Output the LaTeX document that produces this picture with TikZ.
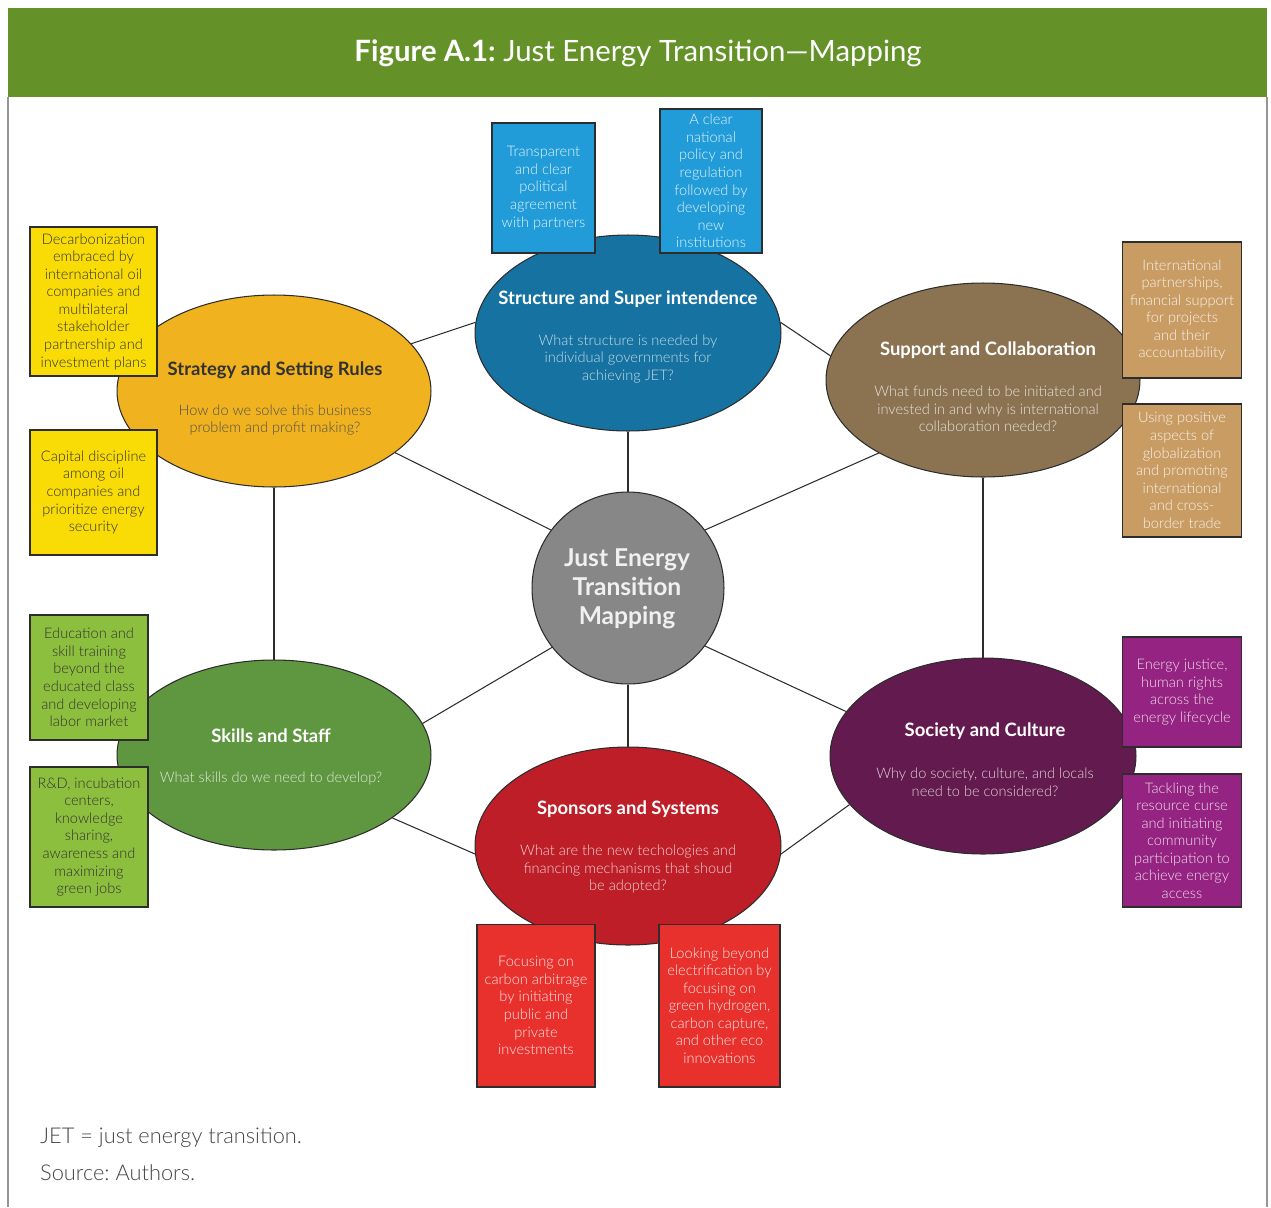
\documentclass[tikz,border=0pt]{standalone}
\usepackage{fontspec}
\setmainfont{Lato}
\newfontfamily\lightfont{Lato Light}
\usetikzlibrary{shapes.geometric}

\definecolor{headgreen}{RGB}{100,146,40}
\definecolor{framegray}{RGB}{150,150,150}
\definecolor{edge}{RGB}{45,45,45}
\definecolor{ovorange}{RGB}{240,178,30}
\definecolor{ovblue}{RGB}{21,114,161}
\definecolor{ovbrown}{RGB}{139,115,81}
\definecolor{ovgreen}{RGB}{95,151,65}
\definecolor{ovpurple}{RGB}{98,26,79}
\definecolor{ovred}{RGB}{190,30,39}
\definecolor{ovgray}{RGB}{135,135,135}
\definecolor{bxyellow}{RGB}{249,220,5}
\definecolor{bxblue}{RGB}{33,156,216}
\definecolor{bxtan}{RGB}{200,156,99}
\definecolor{bxgreen}{RGB}{141,191,63}
\definecolor{bxmagenta}{RGB}{149,35,129}
\definecolor{bxred}{RGB}{232,49,44}
\definecolor{darktext}{RGB}{50,50,50}
\definecolor{foottext}{RGB}{70,70,70}

\begin{document}
\frenchspacing
\begin{tikzpicture}[x=0.02cm,y=-0.02cm,
  oval/.style={ellipse, draw=edge, line width=0.6pt, inner sep=0pt},
  hub/.style={circle, draw=edge, line width=0.6pt, inner sep=0pt, fill=ovgray},
  infobox/.style={rectangle, draw=edge, line width=0.6pt, inner sep=0pt,
    align=center, font=\lightfont\fontsize{8.3}{10}\selectfont},
  link/.style={draw=edge, line width=0.6pt},
  ttl/.style={font=\bfseries\fontsize{10.5}{12.5}\selectfont, align=center},
  qst/.style={font=\lightfont\fontsize{8.3}{10}\selectfont, align=center}
]
\useasboundingbox (0,0) rectangle (1271,1207);

% page frame and header band
\draw[framegray, line width=0.8pt] (8,97) -- (8,1207) (1267,97) -- (1267,1207);
\fill[headgreen] (8,8) rectangle (1267,97);
\node[text=white, font=\fontsize{16.7}{19}\selectfont] (title) at (638,53)
  {\textbf{Figure A.1:} Just Energy Transition\textemdash Mapping};

% central hub and the six themes
\node[hub, minimum size=3.84cm] (cen) at (628,588) {};
\node[oval, fill=ovorange, minimum width=6.28cm, minimum height=3.84cm] (strat) at (274,391) {};
\node[oval, fill=ovblue,   minimum width=6.12cm, minimum height=3.92cm] (struct) at (628,333) {};
\node[oval, fill=ovbrown,  minimum width=6.28cm, minimum height=3.88cm] (supp) at (983,380) {};
\node[oval, fill=ovgreen,  minimum width=6.28cm, minimum height=3.80cm] (skills) at (274,755) {};
\node[oval, fill=ovpurple, minimum width=6.12cm, minimum height=3.92cm] (soc) at (983,756) {};
\node[oval, fill=ovred,    minimum width=6.12cm, minimum height=3.96cm] (spons) at (628,846) {};

% connectors
\draw[link] (cen.143) -- (strat.-27.5);
\draw[link] (cen.37) -- (supp.215.6);
\draw[link] (cen.218) -- (skills.12.7);
\draw[link] (cen.-37.5) -- (soc.162);
\draw[link] (cen.north) -- (struct.south);
\draw[link] (cen.south) -- (spons.north);
\draw[link] (strat.19.3) -- (struct.176);
\draw[link] (struct.4) -- (supp.171);
\draw[link] (strat.south) -- (skills.north);
\draw[link] (supp.south) -- (soc.north);
\draw[link] (skills.-28) -- (spons.183);
\draw[link] (spons.-3) -- (soc.200);

% hub text
\node[text=white!94!black, align=center, font=\bfseries\fontsize{14}{16.5}\selectfont] (cen-t) at (627,589)
  {Just Energy\\Transition\\Mapping};

% theme titles and questions
\node[ttl, text=darktext] (strat-t) at (275,370) {Strategy and Setting Rules};
\node[qst, text=darktext!85] (strat-q) at (275,420)
  {How do we solve this business\\problem and profit making?};

\node[ttl, text=white] (struct-t) at (628,299) {Structure and Super intendence};
\node[qst, text=ovblue!25!white] (struct-q) at (628,359)
  {What structure is needed by\\individual governments for\\achieving JET?};

\node[ttl, text=white] (supp-t) at (988,350) {Support and Collaboration};
\node[qst, text=ovbrown!20!white] (supp-q) at (988,409)
  {What funds need to be initiated and\\invested in and why is international\\collaboration needed?};

\node[ttl, text=white] (skills-t) at (271,736) {Skills and Staff};
\node[qst, text=ovgreen!20!white] (skills-q) at (271,778)
  {What skills do we need to develop?};

\node[ttl, text=white] (soc-t) at (985,731) {Society and Culture};
\node[qst, text=ovpurple!20!white] (soc-q) at (985,782)
  {Why do society, culture, and locals\\need to be considered?};

\node[ttl, text=white] (spons-t) at (628,809) {Sponsors and Systems};
\node[qst, text=ovred!20!white] (spons-q) at (628,869)
  {What are the new techologies and\\financing mechanisms that shoud\\be adopted?};

% detail boxes
\node[infobox, fill=bxyellow, text=darktext, minimum width=2.54cm, minimum height=2.98cm] (b1) at (93.5,301.5)
  {Decarbonization\\embraced by\\international oil\\companies and\\multilateral\\stakeholder\\partnership and\\investment plans};
\node[infobox, fill=bxyellow, text=darktext, minimum width=2.54cm, minimum height=2.50cm] (b2) at (93.5,492.5)
  {Capital discipline\\among oil\\companies and\\prioritize energy\\security};
\node[infobox, fill=bxblue, text=bxblue!12!white, minimum width=2.06cm, minimum height=2.60cm] (b3) at (543.5,188)
  {Transparent\\and clear\\political\\agreement\\with partners};
\node[infobox, fill=bxblue, text=bxblue!12!white, minimum width=2.04cm, minimum height=2.88cm] (b4) at (711,181)
  {A clear\\national\\policy and\\regulation\\followed by\\developing\\new\\institutions};
\node[infobox, fill=bxtan, text=bxtan!12!white, minimum width=2.38cm, minimum height=2.72cm] (b5) at (1182,310)
  {International\\partnerships,\\financial support\\for projects\\and their\\accountability};
\node[infobox, fill=bxtan, text=bxtan!12!white, minimum width=2.38cm, minimum height=2.66cm] (b6) at (1182,470.5)
  {Using positive\\aspects of\\globalization\\and promoting\\international\\and cross-\\border trade};
\node[infobox, fill=bxgreen, text=darktext, minimum width=2.36cm, minimum height=2.50cm] (b7) at (89,677.5)
  {Education and\\skill training\\beyond the\\educated class\\and developing\\labor market};
\node[infobox, fill=bxgreen, text=darktext, minimum width=2.36cm, minimum height=2.80cm] (b8) at (89,837)
  {R\&D, incubation\\centers,\\knowledge\\sharing,\\awareness and\\maximizing\\green jobs};
\node[infobox, fill=bxmagenta, text=bxmagenta!15!white, minimum width=2.38cm, minimum height=2.20cm] (b9) at (1182,692)
  {Energy justice,\\human rights\\across the\\energy lifecycle};
\node[infobox, fill=bxmagenta, text=bxmagenta!15!white, minimum width=2.38cm, minimum height=2.66cm] (b10) at (1182,840.5)
  {Tackling the\\resource curse\\and initiating\\community\\participation to\\achieve energy\\access};
\node[infobox, fill=bxred, text=bxred!12!white, minimum width=2.36cm, minimum height=3.26cm] (b11) at (536,1005.5)
  {Focusing on\\carbon arbitrage\\by initiating\\public and\\private\\investments};
\node[infobox, fill=bxred, text=bxred!12!white, minimum width=2.42cm, minimum height=3.26cm] (b12) at (719.5,1005.5)
  {Looking beyond\\electrification by\\focusing on\\green hydrogen,\\carbon capture,\\and other eco\\innovations};

% notes
\node[anchor=west, text=foottext, font=\lightfont\fontsize{12.4}{14}\selectfont] (note1) at (34,1138) {JET = just energy transition.};
\node[anchor=west, text=foottext, font=\lightfont\fontsize{12.4}{14}\selectfont] (note2) at (34,1173) {Source: Authors.};
\end{tikzpicture}
\end{document}
